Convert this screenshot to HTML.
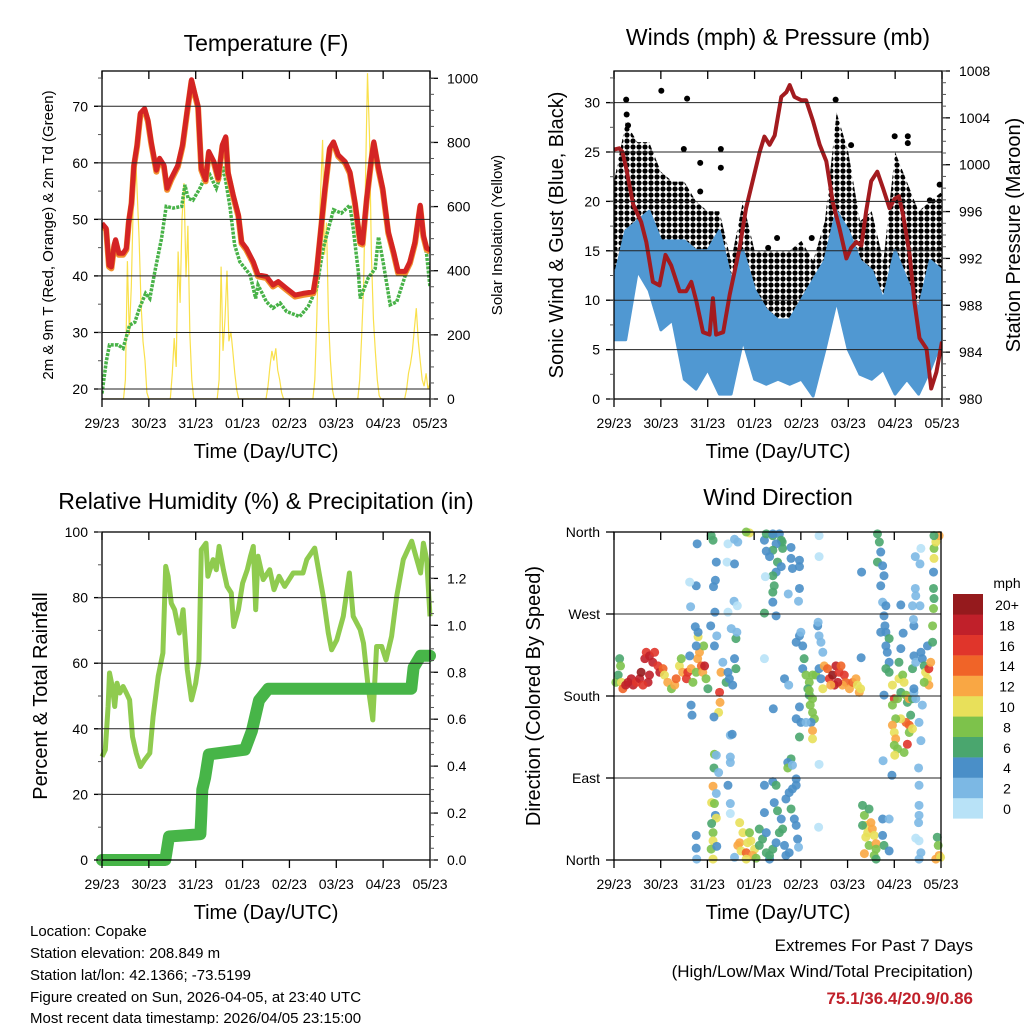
<!DOCTYPE html>
<html><head><meta charset="utf-8"><title>Weather station charts</title>
<style>
html,body{margin:0;padding:0;background:#fff;}
svg{display:block;font-family:"Liberation Sans",Arial,sans-serif;}
</style></head>
<body>
<svg id="chart" width="1024" height="1024" viewBox="0 0 1024 1024" xmlns="http://www.w3.org/2000/svg">
<defs>
<pattern id="gustDots" width="6" height="6" patternUnits="userSpaceOnUse">
<circle cx="3" cy="3" r="2.6" fill="#000"/>
</pattern>
</defs>
<rect width="1024" height="1024" fill="#fff"/>
<g font-size="23" text-anchor="middle" fill="#000">
<text x="266" y="51">Temperature (F)</text>
<text x="778" y="45">Winds (mph) &amp; Pressure (mb)</text>
<text x="266" y="509">Relative Humidity (%) &amp; Precipitation (in)</text>
<text x="778" y="505">Wind Direction</text>
</g>
<g font-size="20" text-anchor="middle">
<text x="266" y="458">Time (Day/UTC)</text>
<text x="778" y="458">Time (Day/UTC)</text>
<text x="266" y="919">Time (Day/UTC)</text>
<text x="778" y="919">Time (Day/UTC)</text>
<text transform="translate(563,235) rotate(-90)">Sonic Wind &amp; Gust (Blue, Black)</text>
<text transform="translate(1020,235) rotate(-90)">Station Pressure (Maroon)</text>
<text transform="translate(47,696) rotate(-90)">Percent &amp; Total Rainfall</text>
<text transform="translate(540,696) rotate(-90)">Direction (Colored By Speed)</text>
</g>
<g font-size="15" text-anchor="middle">
<text transform="translate(53,235) rotate(-90)">2m &amp; 9m T (Red, Orange) &amp; 2m Td (Green)</text>
<text transform="translate(502,235) rotate(-90)">Solar Insolation (Yellow)</text>
</g>
<g font-size="15">
<text x="30" y="936">Location: Copake</text>
<text x="30" y="958">Station elevation: 208.849 m</text>
<text x="30" y="980">Station lat/lon: 42.1366; -73.5199</text>
<text x="30" y="1002">Figure created on Sun, 2026-04-05, at 23:40 UTC</text>
<text x="30" y="1023">Most recent data timestamp: 2026/04/05 23:15:00</text>
</g>
<g font-size="17" text-anchor="end">
<text x="973" y="951">Extremes For Past 7 Days</text>
<text x="973" y="977">(High/Low/Max Wind/Total Precipitation)</text>
<text x="973" y="1004" fill="#c0202a" font-weight="bold">75.1/36.4/20.9/0.86</text>
</g>
<g id="plots"></g>
</svg>
<script>
// ---------- DATA ----------
const dayLabels = ["29/23","30/23","31/23","01/23","02/23","03/23","04/23","05/23"];
const tempRed = [[0,49.3],[.09,48.4],[.15,41.9],[.2,41.6],[.26,45.5],[.29,46.4],[.36,44],[.45,44],[.52,44.9],[.57,49.6],[.63,53],[.68,59.6],[.75,63.2],[.82,68.8],[.91,69.6],[.98,67.6],[1.05,63.7],[1.16,58.7],[1.23,60.8],[1.32,59.6],[1.39,55.5],[1.48,57.3],[1.62,59.6],[1.72,63.2],[1.82,69.4],[1.91,74.7],[1.98,72.3],[2.05,70],[2.12,59],[2.21,57],[2.28,62],[2.39,60.2],[2.48,57.3],[2.57,63.2],[2.64,64.6],[2.69,58.4],[2.8,54.3],[2.91,50.8],[2.98,46],[3.08,44.9],[3.23,42.5],[3.33,40.2],[3.51,39.9],[3.65,38.4],[3.76,39],[3.94,37.8],[4.12,36.6],[4.29,36.9],[4.51,37.2],[4.58,40.8],[4.65,46.6],[4.76,55.5],[4.86,62.6],[4.94,63.7],[5.04,61.4],[5.19,60.2],[5.29,58.4],[5.4,53],[5.51,46],[5.56,45.8],[5.65,53.7],[5.75,60.8],[5.8,63.7],[5.9,59],[5.99,55.5],[6.11,47.8],[6.22,44.3],[6.32,40.8],[6.47,40.8],[6.57,42.5],[6.68,46],[6.79,52.5],[6.86,47.2],[6.93,44.9],[7,44.6]];
const tempGreen = [[0,19.2],[.09,24.8],[.16,27.8],[.34,27.8],[.45,27.2],[.59,31.3],[.7,31.8],[.8,34.3],[.93,36.9],[1.02,36],[1.13,40.8],[1.27,46.6],[1.37,52.3],[1.52,52],[1.7,52.3],[1.77,56.1],[1.84,53.7],[1.94,53.4],[2.09,55.5],[2.17,57],[2.3,57.9],[2.44,55.5],[2.59,59.3],[2.73,52.3],[2.83,45.5],[2.94,42.5],[3.16,40.2],[3.28,36],[3.33,38.4],[3.51,35.4],[3.65,34.3],[3.8,35.2],[3.94,33.7],[4.22,32.8],[4.4,34.6],[4.58,37.8],[4.72,44.9],[4.94,51.7],[5.11,51.1],[5.29,52.5],[5.36,48.4],[5.47,40.8],[5.51,36],[5.68,39.6],[5.83,41.3],[5.9,46.9],[6.0,42.5],[6.15,34.9],[6.29,35.4],[6.5,40.8],[6.72,47.8],[6.82,49.3],[6.93,43.7],[7,38]];
const solarHourly = [
0,0,0,0,0,0,0,0,0,0,0,0,60,430,200,350,600,787,650,500,300,180,120,20,
0,0,0,0,0,0,0,0,0,0,0,0,80,190,100,460,300,560,673,380,540,200,60,0,
0,0,0,0,0,0,0,0,0,0,0,0,60,413,150,250,400,180,210,150,80,30,0,0,
0,0,0,0,0,0,0,0,0,0,0,0,0,40,100,150,120,158,90,60,20,0,0,0,
0,0,0,0,0,0,0,0,0,0,0,0,0,60,250,500,650,808,450,550,250,120,30,0,
0,0,0,0,0,0,0,0,0,0,0,0,60,200,350,700,1016,820,450,250,150,60,10,0,
0,0,0,0,0,0,0,0,0,0,0,0,30,80,110,150,220,283,180,120,60,40,80,30,50];
const windHi = [12,17,18,19,16,16,16,15,15,17,12,15,11,9,8,8,10,12,14,19,17,14,13,10,15,12,9,14,13];
const windLo = [6,6,13,11,7,8,2,1,3,0.5,0.5,6,2,1.5,2,1.5,2,0.3,5,10,5,2.5,2,3,0.5,2,0.5,3,6];
const gustHi = [22,28,26,26,23,22,22,20,19,19,14,20,15,15,15,15,16,14,18,29,25,18,19,14,25,22,19,20,21];
const gustLo = [10,14,17,17,13,11,11,8,8,8,6,12,8,6,6,6,7,6,10,17,12,8,8,6,11,10,4,9,12];
const gustOutliers = [[.26,30.3],[1.01,31.2],[1.56,30.4],[1.49,25.3],[2.28,25.3],[2.28,23.4],[1.84,23.9],[4.73,30.3],[5.06,25.7],[5.99,26.6],[6.27,26.6],[6.27,25.9],[3.48,16.3],[3.29,15.3],[4.22,16.3],[1.84,21],[6.95,21.7],[6.74,20.1],[.27,28.8],[.3,27.7]];
const pressure = [[0,1001.3],[.11,1001.4],[.18,1001.1],[.26,999.7],[.41,996.6],[.58,995.1],[.69,993.4],[.83,990],[.97,989.7],[1.1,992.3],[1.22,991.4],[1.4,989.2],[1.54,989.2],[1.65,990],[1.76,988.3],[1.9,985.7],[2.04,985.5],[2.11,988.6],[2.18,985.5],[2.33,985.7],[2.47,988.9],[2.68,992.9],[2.82,996.3],[2.97,998.8],[3.11,1001.1],[3.21,1002.4],[3.32,1001.7],[3.43,1002.5],[3.57,1005.8],[3.68,1006.2],[3.75,1006.8],[3.85,1005.8],[4.0,1005.5],[4.1,1005.5],[4.25,1003.7],[4.39,1001.7],[4.53,1000.3],[4.67,996.8],[4.81,994.6],[4.96,992],[5.06,992.9],[5.17,993.4],[5.28,993.1],[5.38,996],[5.49,998.6],[5.62,999.4],[5.74,998],[5.88,996.3],[5.99,997.1],[6.08,997.3],[6.17,995.7],[6.31,992.3],[6.41,988.3],[6.52,985.2],[6.67,984.3],[6.77,980.9],[6.88,982.3],[7,984.9]];
const rh = [[0,31.5],[.07,33.6],[.13,46.8],[.16,57],[.22,52.9],[.27,46.8],[.32,53.9],[.38,50.9],[.45,52.9],[.52,50.9],[.59,48.8],[.65,37.6],[.73,32.6],[.82,28.5],[.91,30.5],[1.02,32.6],[1.09,43.7],[1.2,56],[1.3,63.1],[1.36,89.5],[1.41,86.5],[1.48,78.3],[1.55,76.3],[1.65,69.2],[1.73,76.3],[1.82,58],[1.91,48.8],[2.0,53.9],[2.07,61],[2.12,94.6],[2.22,96.6],[2.26,86.5],[2.37,91.6],[2.44,88.5],[2.5,95.6],[2.59,88.5],[2.67,83.4],[2.76,81.4],[2.81,71.2],[2.91,76.3],[3.0,84.4],[3.1,88.5],[3.17,92.6],[3.23,95.6],[3.28,76.3],[3.33,92.6],[3.44,85.5],[3.58,88.5],[3.67,82.4],[3.78,86.5],[3.9,83.4],[4.08,87.5],[4.29,87.5],[4.37,91.6],[4.54,95.1],[4.72,80.4],[4.83,69.2],[4.9,64.1],[5.01,67.1],[5.15,74.3],[5.28,87.5],[5.36,74.3],[5.51,70.2],[5.58,66.1],[5.68,52.9],[5.78,42.7],[5.86,65.1],[5.97,65.1],[6.06,61],[6.18,68.2],[6.29,80.4],[6.43,91.6],[6.61,97.2],[6.7,92.6],[6.8,87.5],[6.86,96.6],[6.93,91.6],[7,74.3]];
const precip = [[0,0],[1.35,0],[1.43,0.1],[2.10,0.11],[2.12,0.19],[2.14,0.3],[2.2,0.35],[2.28,0.45],[3.05,0.47],[3.2,0.55],[3.35,0.68],[3.55,0.73],[6.6,0.73],[6.65,0.82],[6.8,0.87],[7.0,0.87]];
const dirLabels = ["North","East","South","West","North"];
const speedLabels = ["0","2","4","6","8","10","12","14","16","18","20+"];
const speedColors = ["#b8e2f7","#7cb8e4","#4a8fc8","#4aa66e","#7dc24b","#e8e05a","#f9a744","#f06428","#e0352b","#c0202a","#951a1d"];
const windDirObs = [
[.04,195,8],[.09,203,6],[.12,221,6],[.14,213,8],[.16,195,10],[.19,188,14],[.25,192,18],[.30,195,18],[.37,199,18],[.41,192,18],[.48,195,16],[.55,199,18],[.58,206,20],[.66,221,18],[.69,228,16],[.76,224,18],[.83,217,18],[.87,228,16],[.94,213,16],[.98,206,18],[.76,203,18],[.73,195,18],[.62,192,16],[1.05,210,14],[1.08,203,10],[1.15,195,12],[1.23,188,8],[1.30,192,12],[1.33,199,14],[1.40,213,10],[1.44,221,8],[1.47,206,12],[1.55,199,16],[1.58,206,16],[1.65,210,12],[1.69,195,8],[1.76,206,8],[1.79,221,12],[1.83,228,12],[1.87,213,14],[1.90,206,12],[1.94,213,18],[1.97,199,8],[2.01,188,6],[1.92,235,8],[1.80,245,10],[1.76,235,4],
[1.65,170,4],[1.67,159,4],[1.62,224,4],[1.74,256,4],[1.80,250,4],[1.64,278,2],[1.76,301,4],[1.78,347,4],[1.62,305,1],
[2.29,206,12],[2.26,184,16],[2.27,173,12],[2.24,162,10],[2.40,195,6],[2.44,206,4],[2.47,199,4],[2.54,192,4],[2.61,210,6],[2.58,221,4],[2.61,243,6],[2.63,250,2],[2.51,254,2],[2.33,217,2],[2.15,235,4],[2.20,246,2],[2.14,157,4],[2.07,257,4],[2.16,272,4],[2.13,300,4],[2.17,307,4],[2.19,327,4],[2.12,351,6],[2.08,356,6],[2.44,347,1],[2.58,352,2],[2.65,349,2],[2.42,327,1],[2.58,325,4],[2.57,284,2],[2.64,279,1],[2.44,272,1],[2.49,137,2],[2.53,138,4],[2.15,116,8],[2.19,115,2],[2.14,101,6],[2.24,96,2],[2.49,113,2],[2.49,107,2],[2.12,81,12],[2.19,73,2],[2.09,63,10],[2.15,62,8],[2.17,49,4],[2.19,46,10],[2.09,40,6],[2.12,30,8],[2.12,21,10],[2.08,12,8],[2.12,1,10],[2.44,82,4],[2.49,62,2],[2.49,51,1],[2.20,15,4],[1.76,27,4],[1.76,13,4],[1.77,1,2],
[2.69,41,10],[2.76,30,10],[2.69,19,12],[2.65,16,12],[2.72,10,10],[2.83,8,14],[2.86,19,10],[2.93,21,10],[3.01,12,10],[2.97,5,12],[3.11,16,6],[3.18,23,6],[3.26,8,6],[3.33,1,4],[3.40,12,6],[3.47,19,4],[3.54,30,6],[3.61,34,6],[3.65,16,4],[3.68,5,4],[3.75,8,4],[3.11,34,6],[3.26,30,4],[3.22,52,4],[3.22,82,4],[3.40,86,4],[3.47,82,6],[3.43,63,4],[3.50,54,6],[3.58,45,4],[3.68,67,4],[3.75,74,4],[3.79,56,6],[3.82,78,4],[3.90,82,4],[3.90,89,4],[3.86,45,4],[3.90,38,4],[3.79,111,6],[3.72,107,4],[3.72,101,8],[3.82,104,2],[3.93,23,4],[3.95,14,2],[2.83,1,10],[3.04,2,8],[3.33,5,6],[2.90,30,8],[2.58,3,2],
[3.22,351,4],[3.26,358,6],[3.40,356,6],[3.54,358,4],[3.58,351,6],[3.61,342,6],[3.60,349,6],[3.47,347,4],[3.40,340,6],[3.33,333,4],[3.50,327,6],[3.58,322,4],[3.47,316,4],[3.40,312,6],[3.43,301,6],[3.40,283,4],[3.40,294,6],[3.24,311,1],[3.22,271,6],[3.47,268,4],[3.26,339,4],[3.79,331,4],[3.97,329,4],[3.82,320,4],[3.97,322,4],[3.79,343,4],[3.73,292,2],[3.97,298,4],[3.95,284,2],[2.90,359,10],[2.83,360,8],[4.39,356,1],[4.39,333,1],[3.40,358,4],
[3.97,246,4],[4.00,250,2],[3.90,239,4],[4.04,235,4],[4.07,221,6],[4.04,210,4],[4.11,203,8],[4.18,195,8],[4.25,203,8],[4.15,188,6],[4.18,181,6],[4.25,177,8],[4.20,170,8],[4.25,162,8],[4.29,155,8],[4.22,151,4],[3.97,168,4],[4.00,151,4],[4.11,151,2],[4.25,142,12],[4.25,133,10],[3.97,135,6],[3.90,155,4],[4.18,186,8],[4.32,203,8],[4.36,257,4],[4.37,261,2],[4.39,246,2],[4.43,239,2],[4.47,228,2],[4.39,210,4],[4.43,199,4],[4.47,188,10],[3.65,199,4],[3.74,192,2],[3.41,166,4],[3.22,221,1],[4.39,105,1],[4.38,36,1],
[4.50,213,12],[4.57,210,14],[4.61,199,16],[4.68,203,20],[4.72,192,18],[4.75,213,18],[4.82,206,16],[4.86,213,14],[4.93,203,16],[4.96,195,14],[5.04,188,12],[5.11,195,14],[5.18,199,12],[5.21,192,10],[5.25,184,12],[5.28,188,10],[4.89,192,12],[4.79,195,18],[5.29,222,4],[5.30,316,4],[4.64,192,12],
[5.64,358,6],[5.68,349,6],[5.71,338,4],[5.64,327,6],[5.75,323,4],[5.78,312,4],[5.71,301,4],[5.75,283,2],[5.82,279,4],[6.14,280,4],[5.78,268,4],[5.80,257,4],[5.71,250,4],[5.82,250,4],[5.89,243,6],[5.82,235,4],[5.85,228,4],[5.89,217,4],[5.82,210,6],[5.89,206,6],[5.78,181,4],[5.96,192,10],[6.00,177,16],[5.96,170,8],[6.07,177,8],[6.14,184,6],[6.10,199,10],[6.10,217,6],[6.18,203,8],[6.21,195,10],[6.25,181,8],[6.28,173,6],[6.32,177,12],[6.39,177,6],[6.35,159,6],[6.32,148,14],[6.25,151,14],[6.14,155,10],[6.03,155,8],[5.96,148,12],[6.00,140,10],[6.03,133,12],[6.00,126,8],[6.07,122,8],[6.21,118,8],[6.28,127,16],[6.32,140,8],[6.01,115,10],[6.39,144,10],[6.42,184,2],[6.42,188,4],[6.46,177,2],[6.53,151,2],[6.57,131,2],[6.60,170,2],[5.76,109,2],[5.95,93,4],[6.52,101,2],[6.14,232,4],[6.19,249,4],[6.39,210,6],[6.42,224,4],[6.46,217,2],[6.42,257,4],[6.41,264,2],[6.39,279,2],[6.45,298,2],[6.46,290,2],[6.57,228,4],[6.60,221,4],[6.64,213,6],[6.67,206,10],[6.71,199,10],[6.74,192,12],[6.74,210,16],[6.78,217,12],[6.64,195,8],[6.71,235,4],[6.82,239,6],[6.82,257,8],[6.84,276,8],[6.85,287,6],[6.84,298,6],[6.84,316,4],[6.85,331,10],[6.85,342,8],[6.89,349,10],[6.96,356,12],[6.85,356,6],[6.45,333,2],[6.57,342,1],[6.55,325,2],[6.55,279,2],
[5.32,60,6],[5.36,49,8],[5.39,38,10],[5.43,30,10],[5.39,25,10],[5.36,7,12],[5.46,16,8],[5.50,41,12],[5.53,34,12],[5.57,27,10],[5.61,18,12],[5.61,12,8],[5.57,5,8],[5.61,1,6],[5.32,38,6],[5.46,56,6],[5.75,45,4],[5.75,27,4],[5.78,16,6],[5.89,10,4],[5.89,45,2],[6.53,82,2],[6.53,60,2],[6.53,49,2],[6.52,41,2],[6.53,21,1],[6.57,8,2],[6.53,1,2],[6.92,25,6],[6.94,16,8],[6.96,5,12],[6.89,1,12],[6.99,3,10],[6.46,24,1]];

// ---------- HELPERS ----------
const NS = "http://www.w3.org/2000/svg";
const root = document.getElementById('plots');
function mk(tag, attrs, parent) {
  const el = document.createElementNS(NS, tag);
  for (const k in attrs) el.setAttribute(k, attrs[k]);
  (parent || root).appendChild(el);
  return el;
}
function linScale(d0, d1, r0, r1) { return v => r0 + (v - d0) * (r1 - r0) / (d1 - d0); }
function pts(arr, xs, ys) { return arr.map(p => xs(p[0]).toFixed(1) + ',' + ys(p[1]).toFixed(1)).join(' '); }

function axes(p, prefix) {
  const g = mk('g', {});
  
  
  p.grid.forEach(v => {
    const y = p.yl(v);
    const ln = mk('line', {x1: p.x0 - 8, x2: p.x1, y1: y, y2: y, stroke: '#222', 'stroke-width': 1}, g);
    
    
  });
  const fr = mk('rect', {x: p.x0, y: p.yt, width: p.x1 - p.x0, height: p.yb - p.yt, fill: 'none', stroke: '#000', 'stroke-width': 1.3}, g);
  
  
  dayLabels.forEach((lab, i) => {
    const x = p.x0 + i * (p.x1 - p.x0) / 7;
    mk('line', {x1: x, x2: x, y1: p.yb, y2: p.yb + 8, stroke: '#000', 'stroke-width': 1.3}, g);
    mk('line', {x1: x, x2: x, y1: p.yt, y2: p.yt + 8, stroke: '#000', 'stroke-width': 1.3}, g);
    const t = mk('text', {x: x, y: p.yb + 29, 'font-size': 14, 'text-anchor': 'middle'}, g);
    t.textContent = lab;
    
    
  });
  p.lTicks.forEach((v, i) => {
    const y = p.yl(v);
    mk('line', {x1: p.x0 - 8, x2: p.x0, y1: y, y2: y, stroke: '#000', 'stroke-width': 1.3}, g);
    const t = mk('text', {x: p.x0 - 14, y: y + 5, 'font-size': 14, 'text-anchor': 'end'}, g);
    t.textContent = p.lLabels ? p.lLabels[i] : String(v);
    
    
  });
  (p.lMinor || []).forEach(v => {
    const y = p.yl(v);
    if (y >= p.yt - 0.5 && y <= p.yb + 0.5) mk('line', {x1: p.x0 - 4, x2: p.x0, y1: y, y2: y, stroke: '#555', 'stroke-width': 1}, g);
  });
  if (p.yr) {
    p.rTicks.forEach((v, i) => {
      const y = p.yr(v);
      mk('line', {x1: p.x1, x2: p.x1 + 8, y1: y, y2: y, stroke: '#000', 'stroke-width': 1.3}, g);
      const t = mk('text', {x: p.x1 + 17, y: y + 5, 'font-size': 14, 'text-anchor': 'start'}, g);
      t.textContent = p.rLabels ? p.rLabels[i] : String(v);
      
      
    });
    (p.rMinor || []).forEach(v => {
      const y = p.yr(v);
      if (y >= p.yt - 0.5 && y <= p.yb + 0.5) mk('line', {x1: p.x1, x2: p.x1 + 4, y1: y, y2: y, stroke: '#555', 'stroke-width': 1}, g);
    });
  }
  return g;
}
function range(a, b, s) { const r = []; for (let v = a; v <= b + 1e-9; v += s) r.push(+v.toFixed(4)); return r; }

// ---------- PANEL 1: TEMPERATURE ----------
const p1 = {x0: 102, x1: 430, yt: 71, yb: 399};
p1.xs = linScale(0, 7, p1.x0, p1.x1);
p1.yl = linScale(20, 70, 389, 106.3);
p1.yr = linScale(0, 1000, 399, 78.3);
p1.grid = [20, 30, 40, 50, 60, 70];
p1.lTicks = [20, 30, 40, 50, 60, 70];
p1.lMinor = range(15, 75, 5);
p1.rTicks = [0, 200, 400, 600, 800, 1000];
p1.rMinor = range(0, 1000, 50);
const clip1 = mk('clipPath', {id: 'c1'}); mk('rect', {x: p1.x0, y: p1.yt, width: p1.x1 - p1.x0, height: p1.yb - p1.yt}, clip1);
const g1 = mk('g', {'clip-path': 'url(#c1)'});


const solarPts = solarHourly.map((v, i) => [i / 24, v]);
const solarLine = mk('polyline', {points: pts(solarPts, p1.xs, p1.yr), fill: 'none', stroke: '#f9e04b', 'stroke-width': 1.2}, g1);


const dewLine = mk('polyline', {points: pts(tempGreen, p1.xs, p1.yl), fill: 'none', stroke: '#48b248', 'stroke-width': 3.5, 'stroke-dasharray': '3,1.2'}, g1);


const orangeLine = mk('polyline', {points: pts(tempRed, p1.xs, v => p1.yl(v) + 1.5), fill: 'none', stroke: '#f2902e', 'stroke-width': 6, 'stroke-linejoin': 'round'}, g1);


const redLine = mk('polyline', {points: pts(tempRed, p1.xs, p1.yl), fill: 'none', stroke: '#d42424', 'stroke-width': 5, 'stroke-linejoin': 'round'}, g1);


axes(p1, 'temperature');

// ---------- PANEL 2: WINDS ----------
const p2 = {x0: 614, x1: 942, yt: 71, yb: 399};
p2.xs = linScale(0, 7, p2.x0, p2.x1);
p2.yl = linScale(0, 30, 399, 102.6);
p2.yr = linScale(980, 1008, 399, 71);
p2.grid = [0, 5, 10, 15, 20, 25, 30];
p2.lTicks = [0, 5, 10, 15, 20, 25, 30];
p2.lMinor = range(0, 32.5, 2.5);
p2.rTicks = [980, 984, 988, 992, 996, 1000, 1004, 1008];
p2.rMinor = range(980, 1008, 1);
const clip2 = mk('clipPath', {id: 'c2'}); mk('rect', {x: p2.x0, y: p2.yt, width: p2.x1 - p2.x0, height: p2.yb - p2.yt}, clip2);
const g2 = mk('g', {'clip-path': 'url(#c2)'});


function band(hi, lo) {
  const up = hi.map((v, i) => [i * 0.25, v]);
  const dn = lo.map((v, i) => [i * 0.25, v]).reverse();
  return up.concat(dn);
}
const gustBand = mk('polygon', {points: pts(band(gustHi, gustLo), p2.xs, p2.yl), fill: 'url(#gustDots)', stroke: 'none'}, g2);


gustOutliers.forEach(p => {
  const c = mk('circle', {cx: p2.xs(p[0]), cy: p2.yl(p[1]), r: 3, fill: '#000'}, g2);
  
  
});
const windBand = mk('polygon', {points: pts(band(windHi, windLo), p2.xs, p2.yl), fill: '#5098d2', stroke: '#5098d2', 'stroke-width': 3, 'stroke-linejoin': 'round'}, g2);


const presLine = mk('polyline', {points: pts(pressure, p2.xs, p2.yr), fill: 'none', stroke: '#a31b1f', 'stroke-width': 4, 'stroke-linejoin': 'round'}, g2);


axes(p2, 'winds');

// ---------- PANEL 3: HUMIDITY ----------
const p3 = {x0: 102, x1: 430, yt: 532, yb: 860};
p3.xs = linScale(0, 7, p3.x0, p3.x1);
p3.yl = linScale(0, 100, 860, 532);
p3.yr = linScale(0, 1.2, 860, 578.4);
p3.grid = [0, 20, 40, 60, 80, 100];
p3.lTicks = [0, 20, 40, 60, 80, 100];
p3.lMinor = range(0, 100, 10);
p3.rTicks = [0, 0.2, 0.4, 0.6, 0.8, 1.0, 1.2];
p3.rLabels = ["0.0","0.2","0.4","0.6","0.8","1.0","1.2"];
p3.rMinor = range(0, 1.4, 0.05);
const g3 = mk('g', {});


const rhLine = mk('polyline', {points: pts(rh, p3.xs, p3.yl), fill: 'none', stroke: '#8fcb4f', 'stroke-width': 5, 'stroke-linejoin': 'round'}, g3);


const prLine = mk('polyline', {points: pts(precip, p3.xs, p3.yr), fill: 'none', stroke: '#47b548', 'stroke-width': 12, 'stroke-linejoin': 'round', 'stroke-linecap': 'round'}, g3);


axes(p3, 'humidity');

// ---------- PANEL 4: WIND DIRECTION ----------
const p4 = {x0: 614, x1: 941, yt: 532, yb: 860};
p4.xs = linScale(0, 7, p4.x0, p4.x1);
p4.yl = linScale(0, 360, 860, 532);
p4.grid = [0, 90, 180, 270, 360];
p4.lTicks = [0, 90, 180, 270, 360];
p4.lLabels = dirLabels;
const g4 = mk('g', {});


axes(p4, 'wind-direction');
windDirObs.forEach(o => {
  const idx = Math.min(10, Math.floor(o[2] / 2));
  const c = mk('circle', {cx: p4.xs(o[0]), cy: p4.yl(o[1]), r: 4.5, fill: speedColors[idx], 'fill-opacity': 0.9}, g4);
  
  
});

// legend
const lg = mk('g', {});


const mt = mk('text', {x: 1007, y: 588, 'font-size': 14, 'text-anchor': 'middle'}, lg);
mt.textContent = 'mph';


speedLabels.forEach((lab, i) => {
  const k = 10 - i;
  const y = 594 + k * 20.4;
  const r = mk('rect', {x: 953, y: y, width: 30, height: 20.6, fill: speedColors[i]}, lg);
  
  
  const t = mk('text', {x: 1007, y: y + 16, 'font-size': 14, 'text-anchor': 'middle'}, lg);
  t.textContent = lab;
  
  
});
</script>
</body></html>
